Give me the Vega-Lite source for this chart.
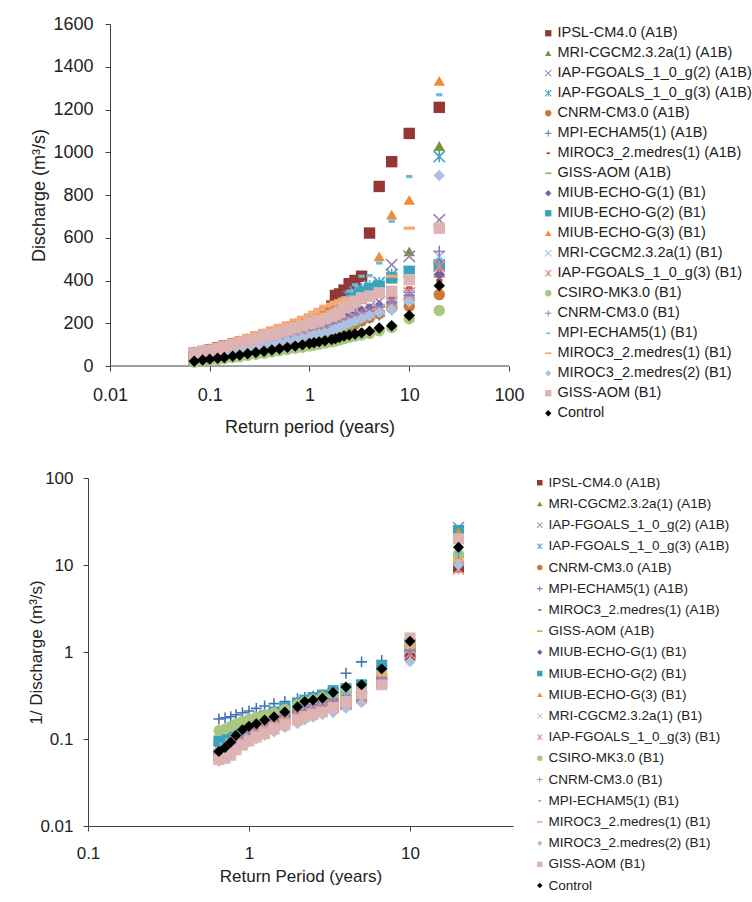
{
"$schema": "https://vega.github.io/schema/vega-lite/v6.json",
"padding": {"left": 27, "top": 15, "right": 0, "bottom": 0},
"background": "white",
"config": {
  "view": {"stroke": null},
  "font": "Liberation Sans",
  "axis": {"grid": false, "domainColor": "#404040", "tickColor": "#404040", "tickSize": 5, "labelColor": "#222222", "titleColor": "#222222", "labelFont": "Liberation Sans", "titleFont": "Liberation Sans", "titleFontWeight": "normal", "labelFlush": false, "labelOverlap": false, "labelBound": false},
  "legend": {"labelFont": "Liberation Sans", "labelColor": "#222222", "padding": 0, "labelLimit": 400, "symbolStrokeWidth": 0}
},
"datasets": {
"names": [
{"k":1,"n":"IPSL-CM4.0 (A1B)"},{"k":2,"n":"MRI-CGCM2.3.2a(1) (A1B)"},{"k":3,"n":"IAP-FGOALS_1_0_g(2) (A1B)"},{"k":4,"n":"IAP-FGOALS_1_0_g(3) (A1B)"},{"k":5,"n":"CNRM-CM3.0 (A1B)"},{"k":6,"n":"MPI-ECHAM5(1) (A1B)"},{"k":7,"n":"MIROC3_2.medres(1) (A1B)"},{"k":8,"n":"GISS-AOM (A1B)"},{"k":9,"n":"MIUB-ECHO-G(1) (B1)"},{"k":10,"n":"MIUB-ECHO-G(2) (B1)"},{"k":11,"n":"MIUB-ECHO-G(3) (B1)"},{"k":12,"n":"MRI-CGCM2.3.2a(1) (B1)"},{"k":13,"n":"IAP-FGOALS_1_0_g(3) (B1)"},{"k":14,"n":"CSIRO-MK3.0 (B1)"},{"k":15,"n":"CNRM-CM3.0 (B1)"},{"k":16,"n":"MPI-ECHAM5(1) (B1)"},{"k":17,"n":"MIROC3_2.medres(1) (B1)"},{"k":18,"n":"MIROC3_2.medres(2) (B1)"},{"k":19,"n":"GISS-AOM (B1)"},{"k":20,"n":"Control"}
],
"top": [
{"k":1,"t":20,"q":1210},{"k":1,"t":10,"q":1088},{"k":1,"t":6.67,"q":956},{"k":1,"t":5,"q":840},{"k":1,"t":4,"q":622},{"k":1,"t":3.33,"q":420},{"k":1,"t":2.86,"q":400},{"k":1,"t":2.5,"q":385},{"k":1,"t":2.22,"q":355},{"k":1,"t":2,"q":337},{"k":1,"t":1.82,"q":330},{"k":1,"t":1.67,"q":280},{"k":1,"t":1.43,"q":250},{"k":1,"t":1.25,"q":230},{"k":1,"t":1.11,"q":215},{"k":1,"t":1,"q":205},{"k":1,"t":0.85,"q":195},{"k":1,"t":0.72,"q":185},{"k":1,"t":0.6,"q":175},{"k":1,"t":0.5,"q":165},{"k":1,"t":0.42,"q":155},{"k":1,"t":0.35,"q":145},{"k":1,"t":0.29,"q":134},{"k":1,"t":0.24,"q":123},{"k":1,"t":0.2,"q":112},{"k":1,"t":0.17,"q":103},{"k":1,"t":0.14,"q":93},{"k":1,"t":0.12,"q":85},{"k":1,"t":0.1,"q":76},{"k":1,"t":0.085,"q":68},{"k":1,"t":0.07,"q":60},
{"k":2,"t":20,"q":1029},{"k":2,"t":10,"q":536},{"k":2,"t":6.67,"q":300},{"k":2,"t":5,"q":262},{"k":2,"t":4,"q":240},{"k":2,"t":3.33,"q":225},{"k":2,"t":2.86,"q":212},{"k":2,"t":2.5,"q":200},{"k":2,"t":2.22,"q":190},{"k":2,"t":2,"q":179},{"k":2,"t":1.82,"q":172},{"k":2,"t":1.67,"q":167},{"k":2,"t":1.43,"q":158},{"k":2,"t":1.25,"q":151},{"k":2,"t":1.11,"q":146},{"k":2,"t":1,"q":140},{"k":2,"t":0.85,"q":133},{"k":2,"t":0.72,"q":127},{"k":2,"t":0.6,"q":120},{"k":2,"t":0.5,"q":115},{"k":2,"t":0.42,"q":108},{"k":2,"t":0.35,"q":99},{"k":2,"t":0.29,"q":91},{"k":2,"t":0.24,"q":83},{"k":2,"t":0.2,"q":74},{"k":2,"t":0.17,"q":67},{"k":2,"t":0.14,"q":59},{"k":2,"t":0.12,"q":52},{"k":2,"t":0.1,"q":43},{"k":2,"t":0.085,"q":36},{"k":2,"t":0.07,"q":28},
{"k":3,"t":20,"q":684},{"k":3,"t":10,"q":513},{"k":3,"t":6.67,"q":474},{"k":3,"t":5,"q":300},{"k":3,"t":4,"q":276},{"k":3,"t":3.33,"q":256},{"k":3,"t":2.86,"q":241},{"k":3,"t":2.5,"q":229},{"k":3,"t":2.22,"q":216},{"k":3,"t":2,"q":201},{"k":3,"t":1.82,"q":191},{"k":3,"t":1.67,"q":183},{"k":3,"t":1.43,"q":171},{"k":3,"t":1.25,"q":163},{"k":3,"t":1.11,"q":157},{"k":3,"t":1,"q":151},{"k":3,"t":0.85,"q":144},{"k":3,"t":0.72,"q":137},{"k":3,"t":0.6,"q":130},{"k":3,"t":0.5,"q":124},{"k":3,"t":0.42,"q":117},{"k":3,"t":0.35,"q":108},{"k":3,"t":0.29,"q":99},{"k":3,"t":0.24,"q":90},{"k":3,"t":0.2,"q":81},{"k":3,"t":0.17,"q":73},{"k":3,"t":0.14,"q":64},{"k":3,"t":0.12,"q":57},{"k":3,"t":0.1,"q":48},{"k":3,"t":0.085,"q":40},{"k":3,"t":0.07,"q":31},
{"k":4,"t":20,"q":980},{"k":4,"t":10,"q":440},{"k":4,"t":6.67,"q":428},{"k":4,"t":5,"q":390},{"k":4,"t":4,"q":375},{"k":4,"t":3.33,"q":362},{"k":4,"t":2.86,"q":347},{"k":4,"t":2.5,"q":325},{"k":4,"t":2.22,"q":295},{"k":4,"t":2,"q":265},{"k":4,"t":1.82,"q":245},{"k":4,"t":1.67,"q":230},{"k":4,"t":1.43,"q":205},{"k":4,"t":1.25,"q":190},{"k":4,"t":1.11,"q":178},{"k":4,"t":1,"q":170},{"k":4,"t":0.85,"q":162},{"k":4,"t":0.72,"q":154},{"k":4,"t":0.6,"q":146},{"k":4,"t":0.5,"q":138},{"k":4,"t":0.42,"q":130},{"k":4,"t":0.35,"q":120},{"k":4,"t":0.29,"q":110},{"k":4,"t":0.24,"q":100},{"k":4,"t":0.2,"q":90},{"k":4,"t":0.17,"q":82},{"k":4,"t":0.14,"q":72},{"k":4,"t":0.12,"q":64},{"k":4,"t":0.1,"q":55},{"k":4,"t":0.085,"q":47},{"k":4,"t":0.07,"q":38},
{"k":5,"t":20,"q":334},{"k":5,"t":10,"q":280},{"k":5,"t":6.67,"q":272},{"k":5,"t":5,"q":245},{"k":5,"t":4,"q":226},{"k":5,"t":3.33,"q":211},{"k":5,"t":2.86,"q":196},{"k":5,"t":2.5,"q":184},{"k":5,"t":2.22,"q":173},{"k":5,"t":2,"q":162},{"k":5,"t":1.82,"q":155},{"k":5,"t":1.67,"q":150},{"k":5,"t":1.43,"q":142},{"k":5,"t":1.25,"q":136},{"k":5,"t":1.11,"q":131},{"k":5,"t":1,"q":126},{"k":5,"t":0.85,"q":120},{"k":5,"t":0.72,"q":115},{"k":5,"t":0.6,"q":109},{"k":5,"t":0.5,"q":104},{"k":5,"t":0.42,"q":97},{"k":5,"t":0.35,"q":90},{"k":5,"t":0.29,"q":82},{"k":5,"t":0.24,"q":75},{"k":5,"t":0.2,"q":67},{"k":5,"t":0.17,"q":61},{"k":5,"t":0.14,"q":54},{"k":5,"t":0.12,"q":47},{"k":5,"t":0.1,"q":40},{"k":5,"t":0.085,"q":34},{"k":5,"t":0.07,"q":26},
{"k":6,"t":20,"q":480},{"k":6,"t":10,"q":345},{"k":6,"t":6.67,"q":264},{"k":6,"t":5,"q":240},{"k":6,"t":4,"q":228},{"k":6,"t":3.33,"q":214},{"k":6,"t":2.86,"q":201},{"k":6,"t":2.5,"q":188},{"k":6,"t":2.22,"q":175},{"k":6,"t":2,"q":161},{"k":6,"t":1.82,"q":153},{"k":6,"t":1.67,"q":147},{"k":6,"t":1.43,"q":139},{"k":6,"t":1.25,"q":132},{"k":6,"t":1.11,"q":127},{"k":6,"t":1,"q":122},{"k":6,"t":0.85,"q":116},{"k":6,"t":0.72,"q":110},{"k":6,"t":0.6,"q":104},{"k":6,"t":0.5,"q":99},{"k":6,"t":0.42,"q":93},{"k":6,"t":0.35,"q":86},{"k":6,"t":0.29,"q":79},{"k":6,"t":0.24,"q":72},{"k":6,"t":0.2,"q":64},{"k":6,"t":0.17,"q":58},{"k":6,"t":0.14,"q":51},{"k":6,"t":0.12,"q":45},{"k":6,"t":0.1,"q":38},{"k":6,"t":0.085,"q":32},{"k":6,"t":0.07,"q":25},
{"k":7,"t":20,"q":400},{"k":7,"t":10,"q":365},{"k":7,"t":6.67,"q":319},{"k":7,"t":5,"q":285},{"k":7,"t":4,"q":258},{"k":7,"t":3.33,"q":242},{"k":7,"t":2.86,"q":227},{"k":7,"t":2.5,"q":214},{"k":7,"t":2.22,"q":202},{"k":7,"t":2,"q":188},{"k":7,"t":1.82,"q":179},{"k":7,"t":1.67,"q":171},{"k":7,"t":1.43,"q":161},{"k":7,"t":1.25,"q":153},{"k":7,"t":1.11,"q":147},{"k":7,"t":1,"q":141},{"k":7,"t":0.85,"q":134},{"k":7,"t":0.72,"q":128},{"k":7,"t":0.6,"q":121},{"k":7,"t":0.5,"q":115},{"k":7,"t":0.42,"q":108},{"k":7,"t":0.35,"q":100},{"k":7,"t":0.29,"q":92},{"k":7,"t":0.24,"q":84},{"k":7,"t":0.2,"q":75},{"k":7,"t":0.17,"q":68},{"k":7,"t":0.14,"q":60},{"k":7,"t":0.12,"q":53},{"k":7,"t":0.1,"q":45},{"k":7,"t":0.085,"q":38},{"k":7,"t":0.07,"q":30},
{"k":8,"t":20,"q":420},{"k":8,"t":10,"q":311},{"k":8,"t":6.67,"q":290},{"k":8,"t":5,"q":255},{"k":8,"t":4,"q":232},{"k":8,"t":3.33,"q":212},{"k":8,"t":2.86,"q":197},{"k":8,"t":2.5,"q":182},{"k":8,"t":2.22,"q":170},{"k":8,"t":2,"q":155},{"k":8,"t":1.82,"q":147},{"k":8,"t":1.67,"q":141},{"k":8,"t":1.43,"q":133},{"k":8,"t":1.25,"q":127},{"k":8,"t":1.11,"q":122},{"k":8,"t":1,"q":117},{"k":8,"t":0.85,"q":111},{"k":8,"t":0.72,"q":106},{"k":8,"t":0.6,"q":100},{"k":8,"t":0.5,"q":95},{"k":8,"t":0.42,"q":89},{"k":8,"t":0.35,"q":82},{"k":8,"t":0.29,"q":75},{"k":8,"t":0.24,"q":68},{"k":8,"t":0.2,"q":61},{"k":8,"t":0.17,"q":55},{"k":8,"t":0.14,"q":48},{"k":8,"t":0.12,"q":43},{"k":8,"t":0.1,"q":37},{"k":8,"t":0.085,"q":31},{"k":8,"t":0.07,"q":24},
{"k":9,"t":20,"q":428},{"k":9,"t":10,"q":330},{"k":9,"t":6.67,"q":300},{"k":9,"t":5,"q":282},{"k":9,"t":4,"q":268},{"k":9,"t":3.33,"q":258},{"k":9,"t":2.86,"q":248},{"k":9,"t":2.5,"q":238},{"k":9,"t":2.22,"q":224},{"k":9,"t":2,"q":205},{"k":9,"t":1.82,"q":190},{"k":9,"t":1.67,"q":180},{"k":9,"t":1.43,"q":168},{"k":9,"t":1.25,"q":159},{"k":9,"t":1.11,"q":153},{"k":9,"t":1,"q":147},{"k":9,"t":0.85,"q":140},{"k":9,"t":0.72,"q":133},{"k":9,"t":0.6,"q":126},{"k":9,"t":0.5,"q":119},{"k":9,"t":0.42,"q":112},{"k":9,"t":0.35,"q":104},{"k":9,"t":0.29,"q":96},{"k":9,"t":0.24,"q":87},{"k":9,"t":0.2,"q":78},{"k":9,"t":0.17,"q":71},{"k":9,"t":0.14,"q":62},{"k":9,"t":0.12,"q":55},{"k":9,"t":0.1,"q":47},{"k":9,"t":0.085,"q":40},{"k":9,"t":0.07,"q":32},
{"k":10,"t":20,"q":474},{"k":10,"t":10,"q":443},{"k":10,"t":6.67,"q":412},{"k":10,"t":5,"q":373},{"k":10,"t":4,"q":362},{"k":10,"t":3.33,"q":345},{"k":10,"t":2.86,"q":320},{"k":10,"t":2.5,"q":298},{"k":10,"t":2.22,"q":278},{"k":10,"t":2,"q":258},{"k":10,"t":1.82,"q":240},{"k":10,"t":1.67,"q":226},{"k":10,"t":1.43,"q":208},{"k":10,"t":1.25,"q":193},{"k":10,"t":1.11,"q":183},{"k":10,"t":1,"q":175},{"k":10,"t":0.85,"q":166},{"k":10,"t":0.72,"q":158},{"k":10,"t":0.6,"q":149},{"k":10,"t":0.5,"q":141},{"k":10,"t":0.42,"q":133},{"k":10,"t":0.35,"q":124},{"k":10,"t":0.29,"q":115},{"k":10,"t":0.24,"q":106},{"k":10,"t":0.2,"q":97},{"k":10,"t":0.17,"q":89},{"k":10,"t":0.14,"q":80},{"k":10,"t":0.12,"q":72},{"k":10,"t":0.1,"q":64},{"k":10,"t":0.085,"q":57},{"k":10,"t":0.07,"q":48},
{"k":11,"t":20,"q":1334},{"k":11,"t":10,"q":777},{"k":11,"t":6.67,"q":708},{"k":11,"t":5,"q":513},{"k":11,"t":4,"q":325},{"k":11,"t":3.33,"q":312},{"k":11,"t":2.86,"q":305},{"k":11,"t":2.5,"q":300},{"k":11,"t":2.22,"q":295},{"k":11,"t":2,"q":288},{"k":11,"t":1.82,"q":282},{"k":11,"t":1.67,"q":275},{"k":11,"t":1.43,"q":265},{"k":11,"t":1.25,"q":250},{"k":11,"t":1.11,"q":238},{"k":11,"t":1,"q":226},{"k":11,"t":0.85,"q":214},{"k":11,"t":0.72,"q":201},{"k":11,"t":0.6,"q":189},{"k":11,"t":0.5,"q":177},{"k":11,"t":0.42,"q":166},{"k":11,"t":0.35,"q":155},{"k":11,"t":0.29,"q":144},{"k":11,"t":0.24,"q":133},{"k":11,"t":0.2,"q":122},{"k":11,"t":0.17,"q":113},{"k":11,"t":0.14,"q":102},{"k":11,"t":0.12,"q":94},{"k":11,"t":0.1,"q":85},{"k":11,"t":0.085,"q":78},{"k":11,"t":0.07,"q":70},
{"k":12,"t":20,"q":513},{"k":12,"t":10,"q":330},{"k":12,"t":6.67,"q":290},{"k":12,"t":5,"q":265},{"k":12,"t":4,"q":250},{"k":12,"t":3.33,"q":238},{"k":12,"t":2.86,"q":226},{"k":12,"t":2.5,"q":215},{"k":12,"t":2.22,"q":204},{"k":12,"t":2,"q":192},{"k":12,"t":1.82,"q":183},{"k":12,"t":1.67,"q":176},{"k":12,"t":1.43,"q":166},{"k":12,"t":1.25,"q":158},{"k":12,"t":1.11,"q":152},{"k":12,"t":1,"q":146},{"k":12,"t":0.85,"q":139},{"k":12,"t":0.72,"q":132},{"k":12,"t":0.6,"q":125},{"k":12,"t":0.5,"q":118},{"k":12,"t":0.42,"q":111},{"k":12,"t":0.35,"q":103},{"k":12,"t":0.29,"q":95},{"k":12,"t":0.24,"q":87},{"k":12,"t":0.2,"q":78},{"k":12,"t":0.17,"q":71},{"k":12,"t":0.14,"q":62},{"k":12,"t":0.12,"q":55},{"k":12,"t":0.1,"q":47},{"k":12,"t":0.085,"q":40},{"k":12,"t":0.07,"q":32},
{"k":13,"t":20,"q":466},{"k":13,"t":10,"q":342},{"k":13,"t":6.67,"q":300},{"k":13,"t":5,"q":257},{"k":13,"t":4,"q":245},{"k":13,"t":3.33,"q":232},{"k":13,"t":2.86,"q":222},{"k":13,"t":2.5,"q":212},{"k":13,"t":2.22,"q":202},{"k":13,"t":2,"q":190},{"k":13,"t":1.82,"q":181},{"k":13,"t":1.67,"q":174},{"k":13,"t":1.43,"q":164},{"k":13,"t":1.25,"q":156},{"k":13,"t":1.11,"q":150},{"k":13,"t":1,"q":144},{"k":13,"t":0.85,"q":137},{"k":13,"t":0.72,"q":130},{"k":13,"t":0.6,"q":123},{"k":13,"t":0.5,"q":116},{"k":13,"t":0.42,"q":109},{"k":13,"t":0.35,"q":101},{"k":13,"t":0.29,"q":93},{"k":13,"t":0.24,"q":85},{"k":13,"t":0.2,"q":77},{"k":13,"t":0.17,"q":70},{"k":13,"t":0.14,"q":61},{"k":13,"t":0.12,"q":54},{"k":13,"t":0.1,"q":46},{"k":13,"t":0.085,"q":39},{"k":13,"t":0.07,"q":31},
{"k":14,"t":20,"q":260},{"k":14,"t":10,"q":221},{"k":14,"t":6.67,"q":180},{"k":14,"t":5,"q":165},{"k":14,"t":4,"q":152},{"k":14,"t":3.33,"q":145},{"k":14,"t":2.86,"q":140},{"k":14,"t":2.5,"q":135},{"k":14,"t":2.22,"q":128},{"k":14,"t":2,"q":122},{"k":14,"t":1.82,"q":117},{"k":14,"t":1.67,"q":113},{"k":14,"t":1.43,"q":107},{"k":14,"t":1.25,"q":102},{"k":14,"t":1.11,"q":98},{"k":14,"t":1,"q":94},{"k":14,"t":0.85,"q":88},{"k":14,"t":0.72,"q":83},{"k":14,"t":0.6,"q":77},{"k":14,"t":0.5,"q":71},{"k":14,"t":0.42,"q":66},{"k":14,"t":0.35,"q":60},{"k":14,"t":0.29,"q":55},{"k":14,"t":0.24,"q":49},{"k":14,"t":0.2,"q":44},{"k":14,"t":0.17,"q":40},{"k":14,"t":0.14,"q":35},{"k":14,"t":0.12,"q":31},{"k":14,"t":0.1,"q":27},{"k":14,"t":0.085,"q":23},{"k":14,"t":0.07,"q":18},
{"k":15,"t":20,"q":536},{"k":15,"t":10,"q":330},{"k":15,"t":6.67,"q":300},{"k":15,"t":5,"q":275},{"k":15,"t":4,"q":255},{"k":15,"t":3.33,"q":240},{"k":15,"t":2.86,"q":228},{"k":15,"t":2.5,"q":216},{"k":15,"t":2.22,"q":205},{"k":15,"t":2,"q":192},{"k":15,"t":1.82,"q":184},{"k":15,"t":1.67,"q":177},{"k":15,"t":1.43,"q":167},{"k":15,"t":1.25,"q":158},{"k":15,"t":1.11,"q":152},{"k":15,"t":1,"q":146},{"k":15,"t":0.85,"q":139},{"k":15,"t":0.72,"q":132},{"k":15,"t":0.6,"q":125},{"k":15,"t":0.5,"q":118},{"k":15,"t":0.42,"q":111},{"k":15,"t":0.35,"q":103},{"k":15,"t":0.29,"q":95},{"k":15,"t":0.24,"q":87},{"k":15,"t":0.2,"q":78},{"k":15,"t":0.17,"q":71},{"k":15,"t":0.14,"q":62},{"k":15,"t":0.12,"q":55},{"k":15,"t":0.1,"q":47},{"k":15,"t":0.085,"q":40},{"k":15,"t":0.07,"q":32},
{"k":16,"t":20,"q":1269},{"k":16,"t":10,"q":886},{"k":16,"t":6.67,"q":677},{"k":16,"t":5,"q":482},{"k":16,"t":4,"q":423},{"k":16,"t":3.33,"q":420},{"k":16,"t":2.86,"q":380},{"k":16,"t":2.5,"q":350},{"k":16,"t":2.22,"q":320},{"k":16,"t":2,"q":290},{"k":16,"t":1.82,"q":270},{"k":16,"t":1.67,"q":255},{"k":16,"t":1.43,"q":235},{"k":16,"t":1.25,"q":218},{"k":16,"t":1.11,"q":205},{"k":16,"t":1,"q":195},{"k":16,"t":0.85,"q":184},{"k":16,"t":0.72,"q":173},{"k":16,"t":0.6,"q":162},{"k":16,"t":0.5,"q":152},{"k":16,"t":0.42,"q":142},{"k":16,"t":0.35,"q":132},{"k":16,"t":0.29,"q":122},{"k":16,"t":0.24,"q":112},{"k":16,"t":0.2,"q":102},{"k":16,"t":0.17,"q":94},{"k":16,"t":0.14,"q":85},{"k":16,"t":0.12,"q":77},{"k":16,"t":0.1,"q":69},{"k":16,"t":0.085,"q":62},{"k":16,"t":0.07,"q":54},
{"k":17,"t":20,"q":650},{"k":17,"t":10,"q":645},{"k":17,"t":6.67,"q":420},{"k":17,"t":5,"q":355},{"k":17,"t":4,"q":338},{"k":17,"t":3.33,"q":328},{"k":17,"t":2.86,"q":320},{"k":17,"t":2.5,"q":315},{"k":17,"t":2.22,"q":312},{"k":17,"t":2,"q":305},{"k":17,"t":1.82,"q":298},{"k":17,"t":1.67,"q":290},{"k":17,"t":1.43,"q":280},{"k":17,"t":1.25,"q":265},{"k":17,"t":1.11,"q":252},{"k":17,"t":1,"q":240},{"k":17,"t":0.85,"q":228},{"k":17,"t":0.72,"q":215},{"k":17,"t":0.6,"q":202},{"k":17,"t":0.5,"q":190},{"k":17,"t":0.42,"q":178},{"k":17,"t":0.35,"q":167},{"k":17,"t":0.29,"q":155},{"k":17,"t":0.24,"q":143},{"k":17,"t":0.2,"q":132},{"k":17,"t":0.17,"q":122},{"k":17,"t":0.14,"q":110},{"k":17,"t":0.12,"q":101},{"k":17,"t":0.1,"q":92},{"k":17,"t":0.085,"q":84},{"k":17,"t":0.07,"q":76},
{"k":18,"t":20,"q":891},{"k":18,"t":10,"q":300},{"k":18,"t":6.67,"q":265},{"k":18,"t":5,"q":250},{"k":18,"t":4,"q":235},{"k":18,"t":3.33,"q":222},{"k":18,"t":2.86,"q":210},{"k":18,"t":2.5,"q":200},{"k":18,"t":2.22,"q":190},{"k":18,"t":2,"q":180},{"k":18,"t":1.82,"q":172},{"k":18,"t":1.67,"q":166},{"k":18,"t":1.43,"q":157},{"k":18,"t":1.25,"q":150},{"k":18,"t":1.11,"q":144},{"k":18,"t":1,"q":139},{"k":18,"t":0.85,"q":132},{"k":18,"t":0.72,"q":125},{"k":18,"t":0.6,"q":118},{"k":18,"t":0.5,"q":112},{"k":18,"t":0.42,"q":105},{"k":18,"t":0.35,"q":97},{"k":18,"t":0.29,"q":89},{"k":18,"t":0.24,"q":81},{"k":18,"t":0.2,"q":73},{"k":18,"t":0.17,"q":66},{"k":18,"t":0.14,"q":58},{"k":18,"t":0.12,"q":52},{"k":18,"t":0.1,"q":45},{"k":18,"t":0.085,"q":39},{"k":18,"t":0.07,"q":32},
{"k":19,"t":20,"q":645},{"k":19,"t":10,"q":404},{"k":19,"t":6.67,"q":350},{"k":19,"t":5,"q":342},{"k":19,"t":4,"q":327},{"k":19,"t":3.33,"q":319},{"k":19,"t":2.86,"q":303},{"k":19,"t":2.5,"q":280},{"k":19,"t":2.22,"q":272},{"k":19,"t":2,"q":250},{"k":19,"t":1.82,"q":240},{"k":19,"t":1.67,"q":232},{"k":19,"t":1.43,"q":222},{"k":19,"t":1.25,"q":212},{"k":19,"t":1.11,"q":205},{"k":19,"t":1,"q":198},{"k":19,"t":0.85,"q":188},{"k":19,"t":0.72,"q":178},{"k":19,"t":0.6,"q":168},{"k":19,"t":0.5,"q":158},{"k":19,"t":0.42,"q":148},{"k":19,"t":0.35,"q":138},{"k":19,"t":0.29,"q":128},{"k":19,"t":0.24,"q":118},{"k":19,"t":0.2,"q":108},{"k":19,"t":0.17,"q":100},{"k":19,"t":0.14,"q":90},{"k":19,"t":0.12,"q":82},{"k":19,"t":0.1,"q":74},{"k":19,"t":0.085,"q":67},{"k":19,"t":0.07,"q":60},
{"k":20,"t":20,"q":376},{"k":20,"t":10,"q":236},{"k":20,"t":6.67,"q":188},{"k":20,"t":5,"q":178},{"k":20,"t":4,"q":163},{"k":20,"t":3.33,"q":155},{"k":20,"t":2.86,"q":150},{"k":20,"t":2.5,"q":145},{"k":20,"t":2.22,"q":140},{"k":20,"t":2,"q":134},{"k":20,"t":1.82,"q":128},{"k":20,"t":1.67,"q":124},{"k":20,"t":1.43,"q":118},{"k":20,"t":1.25,"q":113},{"k":20,"t":1.11,"q":109},{"k":20,"t":1,"q":105},{"k":20,"t":0.85,"q":99},{"k":20,"t":0.72,"q":93},{"k":20,"t":0.6,"q":87},{"k":20,"t":0.5,"q":81},{"k":20,"t":0.42,"q":75},{"k":20,"t":0.35,"q":69},{"k":20,"t":0.29,"q":63},{"k":20,"t":0.24,"q":57},{"k":20,"t":0.2,"q":51},{"k":20,"t":0.17,"q":46},{"k":20,"t":0.14,"q":40},{"k":20,"t":0.12,"q":36},{"k":20,"t":0.1,"q":32},{"k":20,"t":0.085,"q":28},{"k":20,"t":0.07,"q":22}
],
"bot": [
{"k":1,"t":20,"v":9.5},{"k":1,"t":10,"v":0.92},{"k":1,"t":6.67,"v":0.45},{"k":1,"t":5,"v":0.3},{"k":1,"t":4,"v":0.25},{"k":1,"t":3.33,"v":0.23},{"k":1,"t":2.86,"v":0.22},{"k":1,"t":2.5,"v":0.21},{"k":1,"t":2.22,"v":0.2},{"k":1,"t":2,"v":0.19},{"k":1,"t":1.67,"v":0.165},{"k":1,"t":1.43,"v":0.145},{"k":1,"t":1.25,"v":0.13},{"k":1,"t":1.11,"v":0.118},{"k":1,"t":1,"v":0.108},{"k":1,"t":0.91,"v":0.098},{"k":1,"t":0.83,"v":0.088},{"k":1,"t":0.77,"v":0.08},{"k":1,"t":0.71,"v":0.072},{"k":1,"t":0.65,"v":0.065},
{"k":2,"t":20,"v":12},{"k":2,"t":10,"v":1.1},{"k":2,"t":6.67,"v":0.5},{"k":2,"t":5,"v":0.36},{"k":2,"t":4,"v":0.32},{"k":2,"t":3.33,"v":0.3},{"k":2,"t":2.86,"v":0.28},{"k":2,"t":2.5,"v":0.26},{"k":2,"t":2.22,"v":0.24},{"k":2,"t":2,"v":0.22},{"k":2,"t":1.67,"v":0.19},{"k":2,"t":1.43,"v":0.17},{"k":2,"t":1.25,"v":0.15},{"k":2,"t":1.11,"v":0.135},{"k":2,"t":1,"v":0.125},{"k":2,"t":0.91,"v":0.112},{"k":2,"t":0.83,"v":0.1},{"k":2,"t":0.77,"v":0.09},{"k":2,"t":0.71,"v":0.08},{"k":2,"t":0.65,"v":0.07},
{"k":3,"t":20,"v":27},{"k":3,"t":10,"v":1.2},{"k":3,"t":6.67,"v":0.55},{"k":3,"t":5,"v":0.38},{"k":3,"t":4,"v":0.34},{"k":3,"t":3.33,"v":0.31},{"k":3,"t":2.86,"v":0.29},{"k":3,"t":2.5,"v":0.27},{"k":3,"t":2.22,"v":0.25},{"k":3,"t":2,"v":0.23},{"k":3,"t":1.67,"v":0.2},{"k":3,"t":1.43,"v":0.18},{"k":3,"t":1.25,"v":0.16},{"k":3,"t":1.11,"v":0.145},{"k":3,"t":1,"v":0.13},{"k":3,"t":0.91,"v":0.118},{"k":3,"t":0.83,"v":0.105},{"k":3,"t":0.77,"v":0.095},{"k":3,"t":0.71,"v":0.085},{"k":3,"t":0.65,"v":0.075},
{"k":4,"t":20,"v":24},{"k":4,"t":10,"v":1.25},{"k":4,"t":6.67,"v":0.6},{"k":4,"t":5,"v":0.4},{"k":4,"t":4,"v":0.36},{"k":4,"t":3.33,"v":0.33},{"k":4,"t":2.86,"v":0.3},{"k":4,"t":2.5,"v":0.28},{"k":4,"t":2.22,"v":0.26},{"k":4,"t":2,"v":0.24},{"k":4,"t":1.67,"v":0.21},{"k":4,"t":1.43,"v":0.19},{"k":4,"t":1.25,"v":0.17},{"k":4,"t":1.11,"v":0.15},{"k":4,"t":1,"v":0.135},{"k":4,"t":0.91,"v":0.122},{"k":4,"t":0.83,"v":0.11},{"k":4,"t":0.77,"v":0.1},{"k":4,"t":0.71,"v":0.09},{"k":4,"t":0.65,"v":0.08},
{"k":5,"t":20,"v":13},{"k":5,"t":10,"v":1.15},{"k":5,"t":6.67,"v":0.55},{"k":5,"t":5,"v":0.38},{"k":5,"t":4,"v":0.35},{"k":5,"t":3.33,"v":0.32},{"k":5,"t":2.86,"v":0.3},{"k":5,"t":2.5,"v":0.28},{"k":5,"t":2.22,"v":0.26},{"k":5,"t":2,"v":0.24},{"k":5,"t":1.67,"v":0.21},{"k":5,"t":1.43,"v":0.185},{"k":5,"t":1.25,"v":0.165},{"k":5,"t":1.11,"v":0.15},{"k":5,"t":1,"v":0.135},{"k":5,"t":0.91,"v":0.12},{"k":5,"t":0.83,"v":0.105},{"k":5,"t":0.77,"v":0.093},{"k":5,"t":0.71,"v":0.082},{"k":5,"t":0.65,"v":0.07},
{"k":6,"t":20,"v":18},{"k":6,"t":10,"v":1.2},{"k":6,"t":6.67,"v":0.8},{"k":6,"t":5,"v":0.77},{"k":6,"t":4,"v":0.57},{"k":6,"t":3.33,"v":0.34},{"k":6,"t":2.86,"v":0.32},{"k":6,"t":2.5,"v":0.31},{"k":6,"t":2.22,"v":0.3},{"k":6,"t":2,"v":0.29},{"k":6,"t":1.67,"v":0.27},{"k":6,"t":1.43,"v":0.255},{"k":6,"t":1.25,"v":0.24},{"k":6,"t":1.11,"v":0.225},{"k":6,"t":1,"v":0.21},{"k":6,"t":0.91,"v":0.2},{"k":6,"t":0.83,"v":0.19},{"k":6,"t":0.77,"v":0.18},{"k":6,"t":0.71,"v":0.175},{"k":6,"t":0.65,"v":0.17},
{"k":7,"t":20,"v":10.4},{"k":7,"t":10,"v":0.9},{"k":7,"t":6.67,"v":0.46},{"k":7,"t":5,"v":0.295},{"k":7,"t":4,"v":0.245},{"k":7,"t":3.33,"v":0.225},{"k":7,"t":2.86,"v":0.21},{"k":7,"t":2.5,"v":0.2},{"k":7,"t":2.22,"v":0.19},{"k":7,"t":2,"v":0.175},{"k":7,"t":1.67,"v":0.155},{"k":7,"t":1.43,"v":0.14},{"k":7,"t":1.25,"v":0.125},{"k":7,"t":1.11,"v":0.112},{"k":7,"t":1,"v":0.1},{"k":7,"t":0.91,"v":0.09},{"k":7,"t":0.83,"v":0.08},{"k":7,"t":0.77,"v":0.072},{"k":7,"t":0.71,"v":0.065},{"k":7,"t":0.65,"v":0.058},
{"k":8,"t":20,"v":12.5},{"k":8,"t":10,"v":1.1},{"k":8,"t":6.67,"v":0.52},{"k":8,"t":5,"v":0.36},{"k":8,"t":4,"v":0.32},{"k":8,"t":3.33,"v":0.3},{"k":8,"t":2.86,"v":0.28},{"k":8,"t":2.5,"v":0.26},{"k":8,"t":2.22,"v":0.24},{"k":8,"t":2,"v":0.22},{"k":8,"t":1.67,"v":0.195},{"k":8,"t":1.43,"v":0.175},{"k":8,"t":1.25,"v":0.155},{"k":8,"t":1.11,"v":0.14},{"k":8,"t":1,"v":0.128},{"k":8,"t":0.91,"v":0.115},{"k":8,"t":0.83,"v":0.103},{"k":8,"t":0.77,"v":0.092},{"k":8,"t":0.71,"v":0.082},{"k":8,"t":0.65,"v":0.072},
{"k":9,"t":20,"v":11},{"k":9,"t":10,"v":1.05},{"k":9,"t":6.67,"v":0.5},{"k":9,"t":5,"v":0.34},{"k":9,"t":4,"v":0.3},{"k":9,"t":3.33,"v":0.28},{"k":9,"t":2.86,"v":0.26},{"k":9,"t":2.5,"v":0.245},{"k":9,"t":2.22,"v":0.23},{"k":9,"t":2,"v":0.21},{"k":9,"t":1.67,"v":0.185},{"k":9,"t":1.43,"v":0.165},{"k":9,"t":1.25,"v":0.148},{"k":9,"t":1.11,"v":0.133},{"k":9,"t":1,"v":0.12},{"k":9,"t":0.91,"v":0.108},{"k":9,"t":0.83,"v":0.097},{"k":9,"t":0.77,"v":0.087},{"k":9,"t":0.71,"v":0.078},{"k":9,"t":0.65,"v":0.07},
{"k":10,"t":20,"v":25},{"k":10,"t":10,"v":1.25},{"k":10,"t":6.67,"v":0.7},{"k":10,"t":5,"v":0.42},{"k":10,"t":4,"v":0.38},{"k":10,"t":3.33,"v":0.36},{"k":10,"t":2.86,"v":0.32},{"k":10,"t":2.5,"v":0.3},{"k":10,"t":2.22,"v":0.28},{"k":10,"t":2,"v":0.26},{"k":10,"t":1.67,"v":0.23},{"k":10,"t":1.43,"v":0.205},{"k":10,"t":1.25,"v":0.185},{"k":10,"t":1.11,"v":0.165},{"k":10,"t":1,"v":0.15},{"k":10,"t":0.91,"v":0.135},{"k":10,"t":0.83,"v":0.122},{"k":10,"t":0.77,"v":0.11},{"k":10,"t":0.71,"v":0.1},{"k":10,"t":0.65,"v":0.095},
{"k":11,"t":20,"v":23.5},{"k":11,"t":10,"v":1.3},{"k":11,"t":6.67,"v":0.6},{"k":11,"t":5,"v":0.41},{"k":11,"t":4,"v":0.37},{"k":11,"t":3.33,"v":0.35},{"k":11,"t":2.86,"v":0.33},{"k":11,"t":2.5,"v":0.3},{"k":11,"t":2.22,"v":0.28},{"k":11,"t":2,"v":0.26},{"k":11,"t":1.67,"v":0.22},{"k":11,"t":1.43,"v":0.195},{"k":11,"t":1.25,"v":0.175},{"k":11,"t":1.11,"v":0.155},{"k":11,"t":1,"v":0.14},{"k":11,"t":0.91,"v":0.125},{"k":11,"t":0.83,"v":0.11},{"k":11,"t":0.77,"v":0.097},{"k":11,"t":0.71,"v":0.085},{"k":11,"t":0.65,"v":0.075},
{"k":12,"t":20,"v":12},{"k":12,"t":10,"v":1.1},{"k":12,"t":6.67,"v":0.5},{"k":12,"t":5,"v":0.35},{"k":12,"t":4,"v":0.31},{"k":12,"t":3.33,"v":0.29},{"k":12,"t":2.86,"v":0.27},{"k":12,"t":2.5,"v":0.25},{"k":12,"t":2.22,"v":0.235},{"k":12,"t":2,"v":0.215},{"k":12,"t":1.67,"v":0.19},{"k":12,"t":1.43,"v":0.17},{"k":12,"t":1.25,"v":0.15},{"k":12,"t":1.11,"v":0.135},{"k":12,"t":1,"v":0.122},{"k":12,"t":0.91,"v":0.11},{"k":12,"t":0.83,"v":0.098},{"k":12,"t":0.77,"v":0.088},{"k":12,"t":0.71,"v":0.078},{"k":12,"t":0.65,"v":0.068},
{"k":13,"t":20,"v":9},{"k":13,"t":10,"v":0.95},{"k":13,"t":6.67,"v":0.47},{"k":13,"t":5,"v":0.31},{"k":13,"t":4,"v":0.27},{"k":13,"t":3.33,"v":0.25},{"k":13,"t":2.86,"v":0.235},{"k":13,"t":2.5,"v":0.22},{"k":13,"t":2.22,"v":0.205},{"k":13,"t":2,"v":0.19},{"k":13,"t":1.67,"v":0.168},{"k":13,"t":1.43,"v":0.15},{"k":13,"t":1.25,"v":0.134},{"k":13,"t":1.11,"v":0.12},{"k":13,"t":1,"v":0.108},{"k":13,"t":0.91,"v":0.097},{"k":13,"t":0.83,"v":0.087},{"k":13,"t":0.77,"v":0.078},{"k":13,"t":0.71,"v":0.07},{"k":13,"t":0.65,"v":0.062},
{"k":14,"t":20,"v":13.4},{"k":14,"t":10,"v":1.2},{"k":14,"t":6.67,"v":0.6},{"k":14,"t":5,"v":0.4},{"k":14,"t":4,"v":0.38},{"k":14,"t":3.33,"v":0.33},{"k":14,"t":2.86,"v":0.3},{"k":14,"t":2.5,"v":0.285},{"k":14,"t":2.22,"v":0.27},{"k":14,"t":2,"v":0.25},{"k":14,"t":1.67,"v":0.22},{"k":14,"t":1.43,"v":0.2},{"k":14,"t":1.25,"v":0.19},{"k":14,"t":1.11,"v":0.18},{"k":14,"t":1,"v":0.17},{"k":14,"t":0.91,"v":0.16},{"k":14,"t":0.83,"v":0.15},{"k":14,"t":0.77,"v":0.14},{"k":14,"t":0.71,"v":0.13},{"k":14,"t":0.65,"v":0.125},
{"k":15,"t":20,"v":11.5},{"k":15,"t":10,"v":1.05},{"k":15,"t":6.67,"v":0.49},{"k":15,"t":5,"v":0.345},{"k":15,"t":4,"v":0.305},{"k":15,"t":3.33,"v":0.285},{"k":15,"t":2.86,"v":0.265},{"k":15,"t":2.5,"v":0.248},{"k":15,"t":2.22,"v":0.232},{"k":15,"t":2,"v":0.212},{"k":15,"t":1.67,"v":0.188},{"k":15,"t":1.43,"v":0.168},{"k":15,"t":1.25,"v":0.149},{"k":15,"t":1.11,"v":0.134},{"k":15,"t":1,"v":0.121},{"k":15,"t":0.91,"v":0.109},{"k":15,"t":0.83,"v":0.097},{"k":15,"t":0.77,"v":0.087},{"k":15,"t":0.71,"v":0.077},{"k":15,"t":0.65,"v":0.067},
{"k":16,"t":20,"v":14},{"k":16,"t":10,"v":1.2},{"k":16,"t":6.67,"v":0.55},{"k":16,"t":5,"v":0.38},{"k":16,"t":4,"v":0.34},{"k":16,"t":3.33,"v":0.31},{"k":16,"t":2.86,"v":0.29},{"k":16,"t":2.5,"v":0.27},{"k":16,"t":2.22,"v":0.25},{"k":16,"t":2,"v":0.23},{"k":16,"t":1.67,"v":0.2},{"k":16,"t":1.43,"v":0.18},{"k":16,"t":1.25,"v":0.16},{"k":16,"t":1.11,"v":0.145},{"k":16,"t":1,"v":0.13},{"k":16,"t":0.91,"v":0.118},{"k":16,"t":0.83,"v":0.106},{"k":16,"t":0.77,"v":0.095},{"k":16,"t":0.71,"v":0.085},{"k":16,"t":0.65,"v":0.077},
{"k":17,"t":20,"v":11.3},{"k":17,"t":10,"v":1.15},{"k":17,"t":6.67,"v":0.55},{"k":17,"t":5,"v":0.33},{"k":17,"t":4,"v":0.26},{"k":17,"t":3.33,"v":0.235},{"k":17,"t":2.86,"v":0.225},{"k":17,"t":2.5,"v":0.215},{"k":17,"t":2.22,"v":0.2},{"k":17,"t":2,"v":0.185},{"k":17,"t":1.67,"v":0.165},{"k":17,"t":1.43,"v":0.148},{"k":17,"t":1.25,"v":0.132},{"k":17,"t":1.11,"v":0.118},{"k":17,"t":1,"v":0.106},{"k":17,"t":0.91,"v":0.095},{"k":17,"t":0.83,"v":0.085},{"k":17,"t":0.77,"v":0.076},{"k":17,"t":0.71,"v":0.068},{"k":17,"t":0.65,"v":0.062},
{"k":18,"t":20,"v":10},{"k":18,"t":10,"v":0.77},{"k":18,"t":6.67,"v":0.42},{"k":18,"t":5,"v":0.26},{"k":18,"t":4,"v":0.226},{"k":18,"t":3.33,"v":0.2},{"k":18,"t":2.86,"v":0.19},{"k":18,"t":2.5,"v":0.178},{"k":18,"t":2.22,"v":0.165},{"k":18,"t":2,"v":0.15},{"k":18,"t":1.67,"v":0.135},{"k":18,"t":1.43,"v":0.12},{"k":18,"t":1.25,"v":0.11},{"k":18,"t":1.11,"v":0.1},{"k":18,"t":1,"v":0.092},{"k":18,"t":0.91,"v":0.085},{"k":18,"t":0.83,"v":0.078},{"k":18,"t":0.77,"v":0.07},{"k":18,"t":0.71,"v":0.062},{"k":18,"t":0.65,"v":0.055},
{"k":19,"t":20,"v":20},{"k":19,"t":10,"v":1.45},{"k":19,"t":6.67,"v":0.42},{"k":19,"t":5,"v":0.33},{"k":19,"t":4,"v":0.27},{"k":19,"t":3.33,"v":0.23},{"k":19,"t":2.86,"v":0.205},{"k":19,"t":2.5,"v":0.19},{"k":19,"t":2.22,"v":0.18},{"k":19,"t":2,"v":0.165},{"k":19,"t":1.67,"v":0.145},{"k":19,"t":1.43,"v":0.13},{"k":19,"t":1.25,"v":0.115},{"k":19,"t":1.11,"v":0.105},{"k":19,"t":1,"v":0.095},{"k":19,"t":0.91,"v":0.085},{"k":19,"t":0.83,"v":0.075},{"k":19,"t":0.77,"v":0.065},{"k":19,"t":0.71,"v":0.06},{"k":19,"t":0.65,"v":0.058},
{"k":20,"t":20,"v":16},{"k":20,"t":10,"v":1.33},{"k":20,"t":6.67,"v":0.64},{"k":20,"t":5,"v":0.42},{"k":20,"t":4,"v":0.395},{"k":20,"t":3.33,"v":0.343},{"k":20,"t":2.86,"v":0.295},{"k":20,"t":2.5,"v":0.28},{"k":20,"t":2.22,"v":0.27},{"k":20,"t":2,"v":0.235},{"k":20,"t":1.67,"v":0.205},{"k":20,"t":1.43,"v":0.18},{"k":20,"t":1.25,"v":0.165},{"k":20,"t":1.11,"v":0.15},{"k":20,"t":1,"v":0.14},{"k":20,"t":0.91,"v":0.128},{"k":20,"t":0.83,"v":0.11},{"k":20,"t":0.77,"v":0.092},{"k":20,"t":0.71,"v":0.08},{"k":20,"t":0.65,"v":0.072}
]
},
"vconcat": [
{
  "width": 421, "height": 342,
  "layer": [
    {
      "data": {"values": [{}]},
      "mark": {"type": "rule", "color": "#404040", "strokeWidth": 1},
      "encoding": {
        "x": {"datum": 0.01, "type": "quantitative", "scale": {"type": "log", "domain": [0.006025, 100], "nice": false}},
        "x2": {"datum": 100},
        "y": {"datum": 0, "type": "quantitative", "scale": {"domain": [0, 1600], "nice": false}}
      }
    },
    {
      "data": {"name": "top"},
      "transform": [{"lookup": "k", "from": {"data": {"name": "names"}, "key": "k", "fields": ["n"]}}],
      "mark": {"type": "point", "filled": true, "opacity": 1, "size": 130},
      "encoding": {
        "x": {"field": "t", "type": "quantitative", "scale": {"type": "log", "domain": [0.006025, 100], "nice": false},
              "axis": {"values": [0.01, 0.1, 1, 10, 100], "format": "~g", "domain": false, "title": "Return period (years)", "titleX": 221.5, "labelFontSize": 18, "titleFontSize": 18, "labelPadding": 15, "titlePadding": 14}},
        "y": {"field": "q", "type": "quantitative", "scale": {"domain": [0, 1600], "nice": false},
              "axis": {"values": [0, 200, 400, 600, 800, 1000, 1200, 1400, 1600], "format": "d", "offset": -22, "title": "Discharge (m³/s)", "labelFontSize": 18, "titleFontSize": 18, "labelPadding": 12, "titlePadding": 4}},
        "color": {"field": "n", "type": "nominal",
          "scale": {"domain": ["IPSL-CM4.0 (A1B)","MRI-CGCM2.3.2a(1) (A1B)","IAP-FGOALS_1_0_g(2) (A1B)","IAP-FGOALS_1_0_g(3) (A1B)","CNRM-CM3.0 (A1B)","MPI-ECHAM5(1) (A1B)","MIROC3_2.medres(1) (A1B)","GISS-AOM (A1B)","MIUB-ECHO-G(1) (B1)","MIUB-ECHO-G(2) (B1)","MIUB-ECHO-G(3) (B1)","MRI-CGCM2.3.2a(1) (B1)","IAP-FGOALS_1_0_g(3) (B1)","CSIRO-MK3.0 (B1)","CNRM-CM3.0 (B1)","MPI-ECHAM5(1) (B1)","MIROC3_2.medres(1) (B1)","MIROC3_2.medres(2) (B1)","GISS-AOM (B1)","Control"],
                    "range": ["#953735","#77933C","#8D84B5","#3FA3C2","#CC7A33","#3F72B8","#B8413F","#9BBB59","#7D5FA0","#3AA3BC","#F08A3C","#A5B7DA","#E08585","#A9C77E","#8C7DB8","#6CB9D2","#F6A878","#ADC0E0","#DDB3B3","#000000"]},
          "legend": {"title": null, "orient": "none", "legendX": 453, "legendY": 2, "labelFontSize": 14.5, "symbolSize": 40, "rowPadding": 5, "labelOffset": 2}},
        "shape": {"field": "n", "type": "nominal",
          "scale": {"domain": ["IPSL-CM4.0 (A1B)","MRI-CGCM2.3.2a(1) (A1B)","IAP-FGOALS_1_0_g(2) (A1B)","IAP-FGOALS_1_0_g(3) (A1B)","CNRM-CM3.0 (A1B)","MPI-ECHAM5(1) (A1B)","MIROC3_2.medres(1) (A1B)","GISS-AOM (A1B)","MIUB-ECHO-G(1) (B1)","MIUB-ECHO-G(2) (B1)","MIUB-ECHO-G(3) (B1)","MRI-CGCM2.3.2a(1) (B1)","IAP-FGOALS_1_0_g(3) (B1)","CSIRO-MK3.0 (B1)","CNRM-CM3.0 (B1)","MPI-ECHAM5(1) (B1)","MIROC3_2.medres(1) (B1)","MIROC3_2.medres(2) (B1)","GISS-AOM (B1)","Control"],
                    "range": ["square","triangle-up","M-0.9,-1.1L1.1,0.9L0.9,1.1L-1.1,-0.9ZM-1.1,0.9L0.9,-1.1L1.1,-0.9L-0.9,1.1Z","M-0.9,-1.1L1.1,0.9L0.9,1.1L-1.1,-0.9ZM-1.1,0.9L0.9,-1.1L1.1,-0.9L-0.9,1.1ZM0.14,-1L0.14,1L-0.14,1L-0.14,-1Z","circle","M-1,-0.14L1,-0.14L1,0.14L-1,0.14ZM0.14,-1L0.14,1L-0.14,1L-0.14,-1Z","M-0.55,-0.28L0.55,-0.28L0.55,0.28L-0.55,0.28Z","M-1,-0.28L1,-0.28L1,0.28L-1,0.28Z","diamond","square","triangle-up","M-0.9,-1.1L1.1,0.9L0.9,1.1L-1.1,-0.9ZM-1.1,0.9L0.9,-1.1L1.1,-0.9L-0.9,1.1Z","M-0.9,-1.1L1.1,0.9L0.9,1.1L-1.1,-0.9ZM-1.1,0.9L0.9,-1.1L1.1,-0.9L-0.9,1.1ZM0.14,-1L0.14,1L-0.14,1L-0.14,-1Z","circle","M-1,-0.14L1,-0.14L1,0.14L-1,0.14ZM0.14,-1L0.14,1L-0.14,1L-0.14,-1Z","M-0.55,-0.28L0.55,-0.28L0.55,0.28L-0.55,0.28Z","M-1,-0.28L1,-0.28L1,0.28L-1,0.28Z","diamond","square","diamond"]},
          "legend": {"title": null, "orient": "none", "legendX": 453, "legendY": 2, "labelFontSize": 14.5, "symbolSize": 40, "rowPadding": 5, "labelOffset": 2}}
      }
    }
  ]
},
{
  "width": 425, "height": 348,
  "data": {"name": "bot"},
  "transform": [{"lookup": "k", "from": {"data": {"name": "names"}, "key": "k", "fields": ["n"]}}],
  "mark": {"type": "point", "filled": true, "opacity": 1, "size": 120},
  "encoding": {
    "x": {"field": "t", "type": "quantitative", "scale": {"type": "log", "domain": [0.1, 43.6], "nice": false},
          "axis": {"values": [0.1, 1, 10], "format": "~g", "title": "Return Period (years)", "labelFontSize": 17, "titleFontSize": 17, "labelPadding": 14, "titlePadding": 7}},
    "y": {"field": "v", "type": "quantitative", "scale": {"type": "log", "domain": [0.01, 100], "nice": false},
          "axis": {"values": [0.01, 0.1, 1, 10, 100], "format": "~g", "title": "1/ Discharge  (m³/s)", "labelFontSize": 17, "titleFontSize": 17, "labelPadding": 10, "titlePadding": -6}},
    "color": {"field": "n", "type": "nominal",
      "scale": {"domain": ["IPSL-CM4.0 (A1B)","MRI-CGCM2.3.2a(1) (A1B)","IAP-FGOALS_1_0_g(2) (A1B)","IAP-FGOALS_1_0_g(3) (A1B)","CNRM-CM3.0 (A1B)","MPI-ECHAM5(1) (A1B)","MIROC3_2.medres(1) (A1B)","GISS-AOM (A1B)","MIUB-ECHO-G(1) (B1)","MIUB-ECHO-G(2) (B1)","MIUB-ECHO-G(3) (B1)","MRI-CGCM2.3.2a(1) (B1)","IAP-FGOALS_1_0_g(3) (B1)","CSIRO-MK3.0 (B1)","CNRM-CM3.0 (B1)","MPI-ECHAM5(1) (B1)","MIROC3_2.medres(1) (B1)","MIROC3_2.medres(2) (B1)","GISS-AOM (B1)","Control"],
                "range": ["#953735","#77933C","#8D84B5","#3FA3C2","#CC7A33","#3F72B8","#B8413F","#9BBB59","#7D5FA0","#3AA3BC","#F08A3C","#A5B7DA","#E08585","#A9C77E","#8C7DB8","#6CB9D2","#F6A878","#ADC0E0","#DDB3B3","#000000"]},
      "legend": {"title": null, "orient": "none", "legendX": 445, "legendY": -2, "labelFontSize": 13.5, "symbolSize": 30, "rowPadding": 6.2, "labelOffset": 2}},
    "shape": {"field": "n", "type": "nominal",
      "scale": {"domain": ["IPSL-CM4.0 (A1B)","MRI-CGCM2.3.2a(1) (A1B)","IAP-FGOALS_1_0_g(2) (A1B)","IAP-FGOALS_1_0_g(3) (A1B)","CNRM-CM3.0 (A1B)","MPI-ECHAM5(1) (A1B)","MIROC3_2.medres(1) (A1B)","GISS-AOM (A1B)","MIUB-ECHO-G(1) (B1)","MIUB-ECHO-G(2) (B1)","MIUB-ECHO-G(3) (B1)","MRI-CGCM2.3.2a(1) (B1)","IAP-FGOALS_1_0_g(3) (B1)","CSIRO-MK3.0 (B1)","CNRM-CM3.0 (B1)","MPI-ECHAM5(1) (B1)","MIROC3_2.medres(1) (B1)","MIROC3_2.medres(2) (B1)","GISS-AOM (B1)","Control"],
                "range": ["square","triangle-up","M-0.9,-1.1L1.1,0.9L0.9,1.1L-1.1,-0.9ZM-1.1,0.9L0.9,-1.1L1.1,-0.9L-0.9,1.1Z","M-0.9,-1.1L1.1,0.9L0.9,1.1L-1.1,-0.9ZM-1.1,0.9L0.9,-1.1L1.1,-0.9L-0.9,1.1ZM0.14,-1L0.14,1L-0.14,1L-0.14,-1Z","circle","M-1,-0.14L1,-0.14L1,0.14L-1,0.14ZM0.14,-1L0.14,1L-0.14,1L-0.14,-1Z","M-0.55,-0.28L0.55,-0.28L0.55,0.28L-0.55,0.28Z","M-1,-0.28L1,-0.28L1,0.28L-1,0.28Z","diamond","square","triangle-up","M-0.9,-1.1L1.1,0.9L0.9,1.1L-1.1,-0.9ZM-1.1,0.9L0.9,-1.1L1.1,-0.9L-0.9,1.1Z","M-0.9,-1.1L1.1,0.9L0.9,1.1L-1.1,-0.9ZM-1.1,0.9L0.9,-1.1L1.1,-0.9L-0.9,1.1ZM0.14,-1L0.14,1L-0.14,1L-0.14,-1Z","circle","M-1,-0.14L1,-0.14L1,0.14L-1,0.14ZM0.14,-1L0.14,1L-0.14,1L-0.14,-1Z","M-0.55,-0.28L0.55,-0.28L0.55,0.28L-0.55,0.28Z","M-1,-0.28L1,-0.28L1,0.28L-1,0.28Z","diamond","square","diamond"]},
      "legend": {"title": null, "orient": "none", "legendX": 445, "legendY": -2, "labelFontSize": 13.5, "symbolSize": 30, "rowPadding": 6.2, "labelOffset": 2}}
  }
}
],
"bounds": "flush",
"spacing": 112,
"resolve": {"scale": {"color": "independent", "shape": "independent", "x": "independent", "y": "independent"}, "legend": {"color": "independent", "shape": "independent"}}
}
